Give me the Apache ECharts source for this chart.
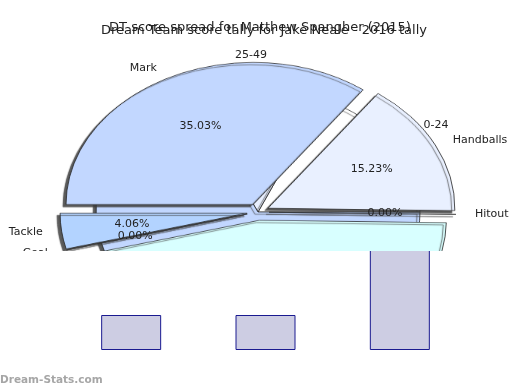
<!DOCTYPE html>
<html><head><meta charset="utf-8">
<script src="https://cdn.jsdelivr.net/npm/echarts@6/dist/echarts.min.js"></script>
<style>
html,body{margin:0;padding:0;background:#fff;}
#bar{position:absolute;left:0;top:0;width:520px;height:390px;}
#clip{position:absolute;left:0;top:0;width:520px;height:251px;overflow:hidden;}
#shape{position:absolute;left:0;top:0;width:520px;height:500px;transform-origin:258px 212px;transform:scaleY(0.76);}
#labels{position:absolute;left:0;top:0;width:520px;height:390px;}
</style></head><body>
<div id="bar"></div>
<div id="clip"><div id="shape"></div><div id="labels"></div></div>
<script>
// ---- data ----
const barTitle = 'DT score spread for Matthew Spangher (2015)';
const spreadCategories = ['0-24', '25-49', '50-74'];
const spreadShare = [18.5, 13.3, 68.2];
const barValues = [2, 2, 7];
const pieTitle = 'Dream Team score tally for Jake Neale - 2016 tally';
const statNames = ['Mark', 'Handballs', 'Hitout', 'Kicks', 'Goal', 'Tackle'];
const statPercents = [35.03, 15.23, 0.00, 45.68, 0.00, 4.06];
const watermark = 'Dream-Stats.com';

// ---- styles ----
const FONT = 'DejaVu Sans';
const statPalette = ['#c2d7ff', '#e9f0ff', '#ffffff', '#d8ffff', '#ffffff', '#b3d3ff'];
const spreadPalette = ['#ffffff', '#e9f0ff', '#c2d7ff'];
const K = 0.76, CX = 258, CY = 212, R = 187, RS = 162, OFF = 11;

const sliceStyle = {
  borderColor: '#222', borderWidth: 0.8,
  shadowColor: 'rgba(60,60,60,0.85)', shadowBlur: 1, shadowOffsetX: -3, shadowOffsetY: 3
};

// bar chart (underneath)
const bar = echarts.init(document.getElementById('bar'), null, {renderer: 'canvas'});
bar.setOption({
  animation: false,
  title: [
    {text: barTitle, left: 'center', top: 16, textStyle: {fontFamily: FONT, fontSize: 13, fontWeight: 'normal', color: '#222'}},
    {text: watermark, left: 0, top: 375, padding: 0, textStyle: {fontFamily: FONT, fontSize: 10.5, fontWeight: 'bold', color: '#a6a6a6'}}
  ],
  grid: {left: 64, right: 53, top: 105, bottom: 40},
  xAxis: {type: 'category', data: spreadCategories, show: false},
  yAxis: {type: 'value', min: 0, max: 14, show: false},
  series: [{
    type: 'bar', data: barValues, barWidth: 60,
    itemStyle: {color: '#cdcde3', borderColor: '#1a1a90', borderWidth: 1}
  }]
});

// pie shapes (vertically squashed)
const shape = echarts.init(document.getElementById('shape'), null, {renderer: 'canvas'});
shape.setOption({
  animation: false,
  series: [
    {
      type: 'pie', center: [CX, CY], radius: RS, startAngle: 0, clockwise: false,
      avoidLabelOverlap: false, label: {show: false}, labelLine: {show: false},
      emphasis: {disabled: true}, silent: true,
      data: spreadCategories.map((c, i) => ({name: c, value: spreadShare[i], itemStyle: Object.assign({color: spreadPalette[i]}, sliceStyle)}))
    },
    {
      type: 'pie', center: [CX, CY], radius: R, startAngle: 180, clockwise: true,
      avoidLabelOverlap: false, label: {show: false}, labelLine: {show: false},
      emphasis: {disabled: true}, silent: true,
      selectedMode: 'multiple', selectedOffset: OFF,
      data: statNames.map((n, i) => ({name: n, value: statPercents[i], selected: true, itemStyle: Object.assign({color: statPalette[i]}, sliceStyle)}))
    }
  ]
});

// labels (unsquashed, positions mapped onto the ellipse)
const squashY = (p) => {
  const r = p.labelRect;
  return {y: CY + (r.y + r.height / 2 - CY) * K};
};
const centeredSquash = (p) => {
  const r = p.labelRect;
  const mx = r.x + r.width / 2;
  return {y: CY + (r.y + r.height / 2 - CY) * K, dx: mx > CX ? -r.width / 2 : r.width / 2};
};
const insideLayout = (p) => {
  const r = p.labelRect;
  const mx = r.x + r.width / 2, my = r.y + r.height / 2;
  const dx = mx - CX, dy = my - CY, d = Math.hypot(dx, dy) || 1;
  const f = (d + OFF) / d;
  return {x: CX + dx * f, y: CY + dy * f * K};
};
const ghost = {color: 'rgba(0,0,0,0)', borderWidth: 0};
const labelText = {fontFamily: FONT, fontSize: 11, color: '#222'};
const labels = echarts.init(document.getElementById('labels'), null, {renderer: 'canvas'});
labels.setOption({
  animation: false,
  title: {text: pieTitle, left: 96, top: 19, textStyle: {fontFamily: FONT, fontSize: 13, fontWeight: 'normal', color: '#222'}},
  series: [
    {
      type: 'pie', center: [CX, CY], radius: [0, 226], startAngle: 180, clockwise: true,
      avoidLabelOverlap: false, silent: true, emphasis: {disabled: true},
      itemStyle: ghost, labelLine: {show: false},
      label: Object.assign({show: true, position: 'inside', formatter: (p) => p.value.toFixed(2) + '%'}, labelText),
      labelLayout: insideLayout,
      data: statNames.map((n, i) => ({name: n, value: statPercents[i]}))
    },
    {
      type: 'pie', center: [CX, CY], radius: R, startAngle: 180, clockwise: true,
      avoidLabelOverlap: false, silent: true, emphasis: {disabled: true},
      itemStyle: ghost, labelLine: {show: false, length: 25, length2: 0},
      label: Object.assign({show: true, position: 'outside', formatter: '{b}'}, labelText),
      labelLayout: squashY,
      data: statNames.map((n, i) => ({name: n, value: statPercents[i]}))
    },
    {
      type: 'pie', center: [CX, CY], radius: RS, startAngle: 0, clockwise: false,
      avoidLabelOverlap: false, silent: true, emphasis: {disabled: true},
      itemStyle: ghost, labelLine: {show: false, length: 45, length2: 0},
      label: Object.assign({show: true, position: 'outside', formatter: '{b}'}, labelText),
      labelLayout: centeredSquash,
      data: spreadCategories.map((c, i) => ({name: c, value: spreadShare[i]}))
    }
  ]
});
</script>
</body></html>
